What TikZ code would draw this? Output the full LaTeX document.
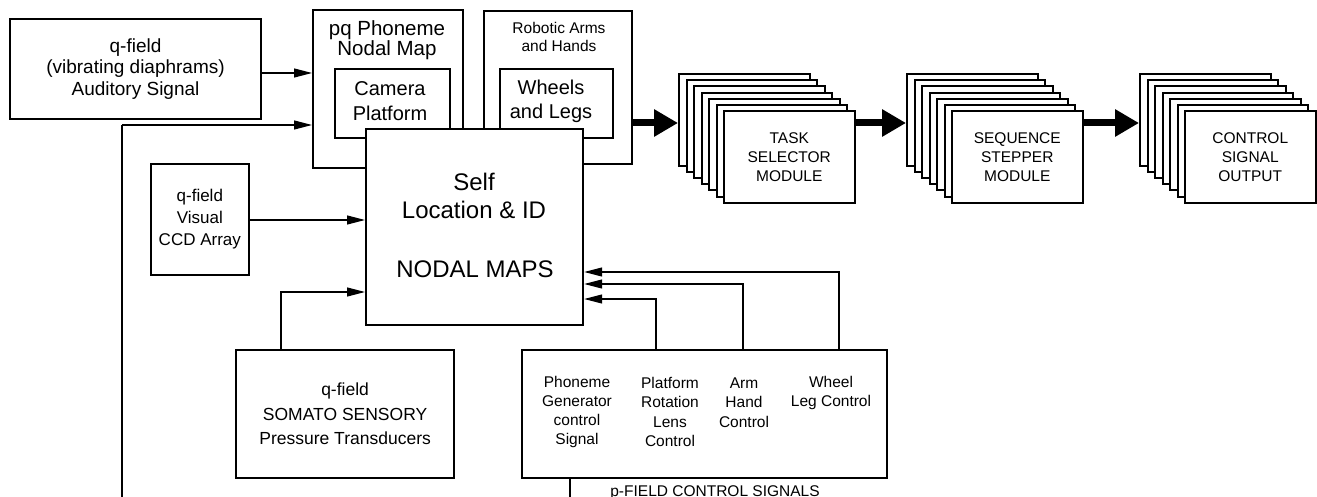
\documentclass[tikz,border=0pt]{standalone}
\usepackage{fontspec}
\setmainfont{Liberation Sans}
\usetikzlibrary{arrows.meta}
\newcommand\fsz[2]{\fontsize{#1bp}{#2bp}\selectfont}

\begin{document}
\begin{tikzpicture}[x=1bp,y=-1bp,
  box/.style={draw, line width=2bp, fill=white, inner sep=0, anchor=north west},
  lbl/.style={inner sep=0, align=center},
  thin arrow/.style={line width=1.2bp, -{Triangle[length=18bp,width=9bp]}},
  bus/.style={line width=2.6bp},
  fat arrow/.style={line width=7bp, -{Triangle[length=24bp,width=26bp]}},
]
\useasboundingbox (0,0) rectangle (1317,497);

% sensor / map boxes
\node[box, minimum width=252, minimum height=100] (aud) at (9,18) {};
\node[box, minimum width=151, minimum height=159] (pq) at (312,9) {};
\node[box, minimum width=115, minimum height=69] (cam) at (334,68) {};
\node[box, minimum width=149, minimum height=154] (rob) at (483,10) {};
\node[box, minimum width=113, minimum height=69] (whl) at (499,68) {};
\node[box, minimum width=218, minimum height=197] (self) at (365,128) {};
\node[box, minimum width=98, minimum height=111] (vis) at (150,163) {};
\node[box, minimum width=219, minimum height=128] (som) at (235,349) {};
\node[box, minimum width=366, minimum height=128] (pf) at (521,349) {};

% labels
\node[lbl, font=\fsz{19}{21.5}] at (aud.center) {q-field\\(vibrating diaphrams)\\Auditory Signal};
\node[lbl, font=\fsz{20.5}{18}] at (387,40) {pq Phoneme\\Nodal Map};
\node[lbl, font=\fsz{20}{25}] at (390,101) {Camera\\Platform};
\node[lbl, font=\fsz{15.5}{18}] at (559,37) {Robotic Arms\\and Hands};
\node[lbl, font=\fsz{20}{24}] at (551,101) {Wheels\\and Legs};
\node[lbl, font=\fsz{24}{28}] at (474,196) {Self\\Location \& ID};
\node[lbl, font=\fsz{24}{28}] at (475,269) {NODAL MAPS};
\node[lbl, font=\fsz{17}{22}] at (vis.center) {q-field\\Visual\\CCD Array};
\node[lbl, font=\fsz{17.5}{24.5}] at (som.center) {q-field\\SOMATO SENSORY\\Pressure Transducers};
\node[lbl, font=\fsz{15.5}{19.3}] at (577,412) {Phoneme\\Generator\\control\\Signal};
\node[lbl, font=\fsz{15.5}{19.3}] at (670,412) {Platform\\Rotation\\Lens\\Control};
\node[lbl, font=\fsz{15.5}{19.3}] at (744,402.5) {Arm\\Hand\\Control};
\node[lbl, font=\fsz{15.5}{19.3}] at (831,393) {Wheel\\Leg Control};
\node[inner sep=0, anchor=base, font=\fsz{15.5}{19}] at (715,496) {p-FIELD CONTROL SIGNALS};

% stacked module banks
\foreach \i in {0,...,6} {
  \node[box, minimum width=131, minimum height=92] (task\i) at ({678+7.5*\i},{73+6.17*\i}) {};
  \node[box, minimum width=131, minimum height=92] (seq\i) at ({906+7.5*\i},{73+6.17*\i}) {};
  \node[box, minimum width=131, minimum height=92] (ctl\i) at ({1139+7.5*\i},{73+6.17*\i}) {};
}
\node[lbl, font=\fsz{15.5}{19}] at (task6.center) {TASK\\SELECTOR\\MODULE};
\node[lbl, font=\fsz{15.5}{19}] at (seq6.center) {SEQUENCE\\STEPPER\\MODULE};
\node[lbl, font=\fsz{15.5}{19}] at (ctl6.center) {CONTROL\\SIGNAL\\OUTPUT};

% main signal flow
\coordinate (busY) at (0,123);
\draw[fat arrow] (rob.east |- busY) -- (task0.west |- busY);
\draw[fat arrow] (task6.east |- busY) -- (seq0.west |- busY);
\draw[fat arrow] (seq6.east |- busY) -- (ctl0.west |- busY);

% sensory inputs
\coordinate (yAud) at (0,73);
\draw[thin arrow] (aud.east |- yAud) -- (pq.west |- yAud);
\coordinate (yVis) at (0,220);
\draw[thin arrow] (vis.east |- yVis) -- (self.west |- yVis);
\coordinate (somTap) at (281,292);
\draw[thin arrow] (som.north -| somTap) |- (self.west |- somTap);
\draw[bus] (som.north -| somTap) -- (somTap);

% feedback loop from the bottom
\coordinate (fbBot) at (122,500);
\coordinate (fbTop) at (122,125);
\draw[thin arrow] (fbTop) -- (pq.west |- fbTop);
\draw[bus] (fbBot) -- (fbTop);

% p-field control taps
\foreach \x/\y/\n in {656/299/a, 743/284/b, 839/272/c} {
  \coordinate (tap\n) at (\x,\y);
  \draw[thin arrow] (pf.north -| tap\n) |- (self.east |- tap\n);
  \draw[bus] (pf.north -| tap\n) -- (tap\n);
}
\coordinate (pfBot) at (570,500);
\draw[bus] (pf.south -| pfBot) -- (pfBot);
\end{tikzpicture}
\end{document}
